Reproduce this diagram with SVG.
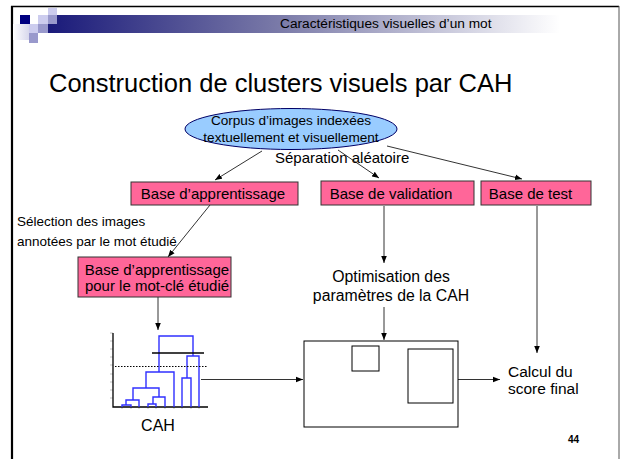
<svg xmlns="http://www.w3.org/2000/svg" width="621" height="459" viewBox="0 0 621 459">
<style>
text{font-family:"Liberation Sans",Arial,sans-serif;fill:#000}
.box{fill:#ff6699;stroke:#333;stroke-width:1}
.lbl{font-size:15px;text-anchor:middle}
.ell{font-size:13.6px;text-anchor:middle}
.con{stroke:#333;stroke-width:1;fill:none;marker-end:url(#ah)}
.den{stroke:#3030ff;stroke-width:1.4;fill:none}
.tk{stroke:#999;stroke-width:0.6}
</style>
<defs>
<marker id="ah" viewBox="0 0 10 10" refX="10" refY="5" markerWidth="7" markerHeight="7" orient="auto" markerUnits="userSpaceOnUse">
<path d="M0,1 L10,5 L0,9 z" fill="#000"/>
</marker>
<linearGradient id="hg" x1="0" y1="0" x2="1" y2="0">
<stop offset="0" stop-color="#1a1a7a"/>
<stop offset="0.45" stop-color="#7a7aa8"/>
<stop offset="1" stop-color="#ffffff"/>
</linearGradient>
<linearGradient id="lg" x1="0" y1="0" x2="1" y2="0">
<stop offset="0" stop-color="#ffffff"/>
<stop offset="1" stop-color="#d8d8ec"/>
</linearGradient>
</defs>
<rect width="621" height="459" fill="#fff"/>
<g id="frame">
<line x1="11" y1="6.5" x2="619" y2="6.5" stroke="#000" stroke-width="1.5"/>
<line x1="12" y1="6" x2="12" y2="459" stroke="#000" stroke-width="2.2"/>
<line x1="619" y1="6" x2="619" y2="459" stroke="#555" stroke-width="1"/>
</g>
<g id="header">
<rect x="48" y="15" width="512" height="18" fill="url(#hg)"/>
<rect x="13" y="24" width="16" height="16" fill="url(#lg)"/>
<rect x="20" y="15" width="10" height="9" fill="#000080"/>
<rect x="38" y="15" width="10" height="9" fill="#ccccee"/>
<rect x="48" y="8" width="9" height="7" fill="#ccccee"/>
<rect x="48" y="15" width="9" height="9" fill="#9999cc"/>
<rect x="29" y="24" width="9" height="9" fill="#ccccee"/>
<rect x="38" y="24" width="10" height="9" fill="#9999cc"/>
<rect x="29" y="33" width="9" height="10" fill="#9999cc"/>
<text x="280" y="28" font-size="13.7">Caractéristiques visuelles d’un mot</text>
</g>
<text id="title" x="49" y="92" font-size="25.5">Construction de clusters visuels par CAH</text>
<g id="connectors">
<line class="con" x1="262" y1="151" x2="215" y2="180"/>
<line class="con" x1="338" y1="150" x2="379" y2="178"/>
<line class="con" x1="387" y1="146" x2="522" y2="179"/>
<line class="con" x1="210" y1="205" x2="168" y2="257"/>
<line class="con" x1="158" y1="297" x2="158" y2="330"/>
<line class="con" x1="384" y1="206" x2="384" y2="263"/>
<line class="con" x1="384" y1="307" x2="384" y2="340"/>
<line class="con" x1="537" y1="206" x2="537" y2="353"/>
<line class="con" x1="201" y1="379.5" x2="303" y2="379.5"/>
<line class="con" x1="458" y1="379.5" x2="500" y2="379.5"/>
</g>
<g id="corpus">
<ellipse cx="291" cy="129" rx="106" ry="20.5" fill="#99ccff" stroke="#000066" stroke-width="1"/>
<text class="ell" x="291" y="125">Corpus d’images indexées</text>
<text class="ell" x="291" y="142">textuellement et visuellement</text>
</g>
<text id="sep" x="275" y="163" font-size="15">Séparation  aléatoire</text>
<g id="apprentissage">
<rect class="box" x="131" y="182" width="167" height="23"/>
<text class="lbl" x="213" y="199">Base d’apprentissage</text>
</g>
<g id="validation">
<rect class="box" x="321" y="181" width="153" height="24"/>
<text class="lbl" x="391" y="198.5">Base de validation</text>
</g>
<g id="test">
<rect class="box" x="481" y="181" width="110" height="24"/>
<text class="lbl" x="530.5" y="198.5">Base de test</text>
</g>
<text id="selection" font-size="13.5"><tspan x="17" y="226">Sélection des images</tspan><tspan x="17" y="246">annotées par le mot étudié</tspan></text>
<g id="motcle">
<rect class="box" x="78" y="257" width="153" height="40"/>
<text class="lbl" x="157" y="275">Base d’apprentissage</text>
<text class="lbl" x="157" y="291">pour le mot-clé étudié</text>
</g>
<g id="cah">
<g class="tk">
<line x1="110" y1="333" x2="113" y2="333"/><line x1="110" y1="341" x2="113" y2="341"/><line x1="110" y1="349" x2="113" y2="349"/><line x1="110" y1="357" x2="113" y2="357"/><line x1="110" y1="365" x2="113" y2="365"/><line x1="110" y1="374" x2="113" y2="374"/><line x1="110" y1="382" x2="113" y2="382"/><line x1="110" y1="390" x2="113" y2="390"/><line x1="110" y1="398" x2="113" y2="398"/>
<line x1="122" y1="407" x2="122" y2="409"/><line x1="131" y1="407" x2="131" y2="409"/><line x1="139" y1="407" x2="139" y2="409"/><line x1="148" y1="407" x2="148" y2="409"/><line x1="156" y1="407" x2="156" y2="409"/><line x1="165" y1="407" x2="165" y2="409"/><line x1="174" y1="407" x2="174" y2="409"/><line x1="182" y1="407" x2="182" y2="409"/><line x1="191" y1="407" x2="191" y2="409"/><line x1="199" y1="407" x2="199" y2="409"/>
</g>
<path d="M113,333 V407 H208" stroke="#000" stroke-width="1.3" fill="none"/>
<path class="den" d="M122,407 V405 H131 V407"/>
<path class="den" d="M126,405 V400 H139 V407"/>
<path class="den" d="M148,407 V404 H156 V407"/>
<path class="den" d="M153,404 V397 H165 V407"/>
<path class="den" d="M133,400 V388 H159 V397"/>
<path class="den" d="M146,388 V372 H174 V407" stroke="#5555ff"/>
<path class="den" d="M182,407 V378 H191 V407"/>
<path class="den" d="M187,378 V356 H199 V407"/>
<path class="den" d="M159,372 V336 H193 V356" stroke="#5050ff"/>
<line x1="152" y1="353" x2="204" y2="353" stroke="#000" stroke-width="1.3"/>
<line x1="115" y1="366.5" x2="208" y2="366.5" stroke="#000" stroke-width="1" stroke-dasharray="1.5,1.5"/>
<text x="158" y="431" font-size="16" text-anchor="middle">CAH</text>
</g>
<text id="optim" font-size="15.8" text-anchor="middle"><tspan x="391" y="282">Optimisation des</tspan><tspan x="391" y="301">paramètres de la CAH</tspan></text>
<g id="result">
<rect x="304" y="341" width="154" height="86" fill="#fff" stroke="#000" stroke-width="1"/>
<rect x="352" y="346" width="27" height="25" fill="#fff" stroke="#000" stroke-width="1"/>
<rect x="408" y="349" width="45" height="54" fill="#fff" stroke="#000" stroke-width="1"/>
</g>
<text id="calcul" font-size="15.5"><tspan x="508" y="377">Calcul du</tspan><tspan x="508" y="394">score final</tspan></text>
<text id="page" x="568" y="443" font-size="10" font-weight="bold">44</text>
</svg>
